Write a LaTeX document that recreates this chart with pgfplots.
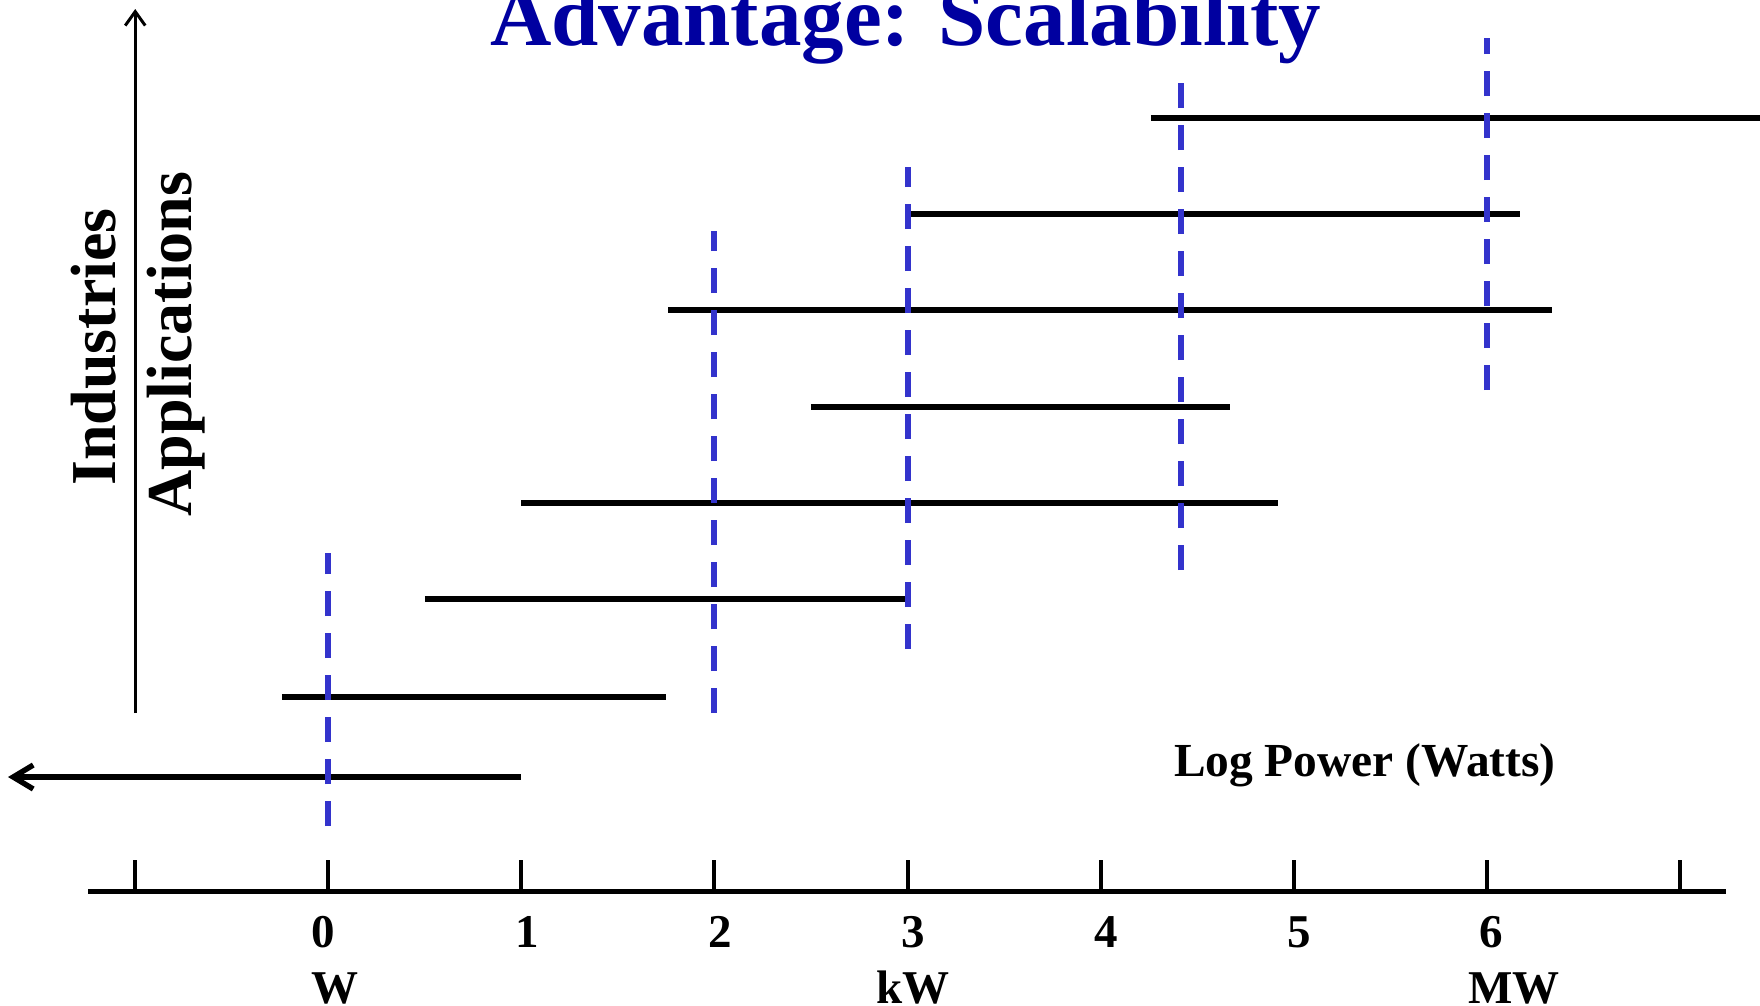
\documentclass[border=0pt]{standalone}
\usepackage{fontspec}
\setmainfont{Liberation Serif}
\usepackage{pgfplots}
\pgfplotsset{compat=1.18}
\usetikzlibrary{arrows.meta}
\definecolor{titleblue}{RGB}{0,0,160}
\definecolor{dashblue}{RGB}{51,51,204}
\begin{document}
\begin{tikzpicture}
\begin{axis}[scale only axis, width=880bp, height=503bp,
  xmin=-1.7004, xmax=7.4155, ymin=0, ymax=1006, y dir=reverse,
  hide axis, clip=false]
% x axis line and ticks
\addplot[black, line width=2.5bp] coordinates {(-1.244,891) (7.239,891)};
\pgfplotsinvokeforeach{-1,0,1,2,3,4,5,6,7}{
  \addplot[black, line width=2bp] coordinates {(#1,860) (#1,891)};
}
% vertical arrow
\addplot[black, line width=1.5bp, arrows={-Straight Barb[length=7bp,width=10bp]}] coordinates {(-1,713) (-1,9)};
% ranges of applications
\addplot[black, line width=2.7bp, arrows={Straight Barb[length=10bp,width=12bp]-}] coordinates {(-1.659,777) (1.0,777)};
\addplot[black, line width=2.7bp] coordinates {(-0.24,697) (1.75,697)};
\addplot[black, line width=2.7bp] coordinates {(0.50,599) (3.0,599)};
\addplot[black, line width=2.7bp] coordinates {(1.0,503) (4.92,503)};
\addplot[black, line width=2.7bp] coordinates {(2.50,407) (4.67,407)};
\addplot[black, line width=2.7bp] coordinates {(1.76,310) (6.34,310)};
\addplot[black, line width=2.7bp] coordinates {(3.0,214) (6.17,214)};
\addplot[black, line width=2.7bp] coordinates {(4.26,118) (7.5,118)};
% dashed markers
\addplot[dashblue, line width=3bp, dash pattern=on 12.3bp off 8.7bp] coordinates {(0,826) (0,553)};
\addplot[dashblue, line width=3bp, dash pattern=on 12.3bp off 8.7bp] coordinates {(2,713) (2,231)};
\addplot[dashblue, line width=3bp, dash pattern=on 12.3bp off 8.7bp] coordinates {(3,649) (3,167)};
\addplot[dashblue, line width=3bp, dash pattern=on 12.3bp off 8.7bp] coordinates {(4.417,570) (4.417,79)};
\addplot[dashblue, line width=3bp, dash pattern=on 12.3bp off 8.7bp] coordinates {(6,390) (6,38)};
% texts
\node[anchor=base, text=titleblue, font=\fontsize{42.5bp}{50bp}\selectfont\bfseries] at (axis cs:2.99,45) {Advantage: Scalability};
\node[anchor=base, font=\fontsize{23.7bp}{28bp}\selectfont\bfseries] at (axis cs:5.369,776) {Log Power (Watts)};
\node[anchor=base, rotate=90, font=\fontsize{32bp}{38bp}\selectfont\bfseries] at (axis cs:-1.10,347) {Industries};
\node[anchor=base, rotate=90, font=\fontsize{32bp}{38bp}\selectfont\bfseries] at (axis cs:-0.706,344) {Applications};
\node[anchor=base, font=\fontsize{23.5bp}{28bp}\selectfont\bfseries] at (axis cs:-0.024,947) {0};
\node[anchor=base, font=\fontsize{23.5bp}{28bp}\selectfont\bfseries] at (axis cs:1.033,947) {1};
\node[anchor=base, font=\fontsize{23.5bp}{28bp}\selectfont\bfseries] at (axis cs:2.032,947) {2};
\node[anchor=base, font=\fontsize{23.5bp}{28bp}\selectfont\bfseries] at (axis cs:3.032,947) {3};
\node[anchor=base, font=\fontsize{23.5bp}{28bp}\selectfont\bfseries] at (axis cs:4.031,947) {4};
\node[anchor=base, font=\fontsize{23.5bp}{28bp}\selectfont\bfseries] at (axis cs:5.030,947) {5};
\node[anchor=base, font=\fontsize{23.5bp}{28bp}\selectfont\bfseries] at (axis cs:6.023,947) {6};
\node[anchor=base, font=\fontsize{23.5bp}{28bp}\selectfont\bfseries] at (axis cs:0.035,1003) {W};
\node[anchor=base, font=\fontsize{23.5bp}{28bp}\selectfont\bfseries] at (axis cs:3.03,1003) {kW};
\node[anchor=base, font=\fontsize{23.5bp}{28bp}\selectfont\bfseries] at (axis cs:6.14,1003) {MW};
\end{axis}
\pgfresetboundingbox
\path[use as bounding box] (current axis.south west) rectangle (current axis.north east);
\end{tikzpicture}
\end{document}
